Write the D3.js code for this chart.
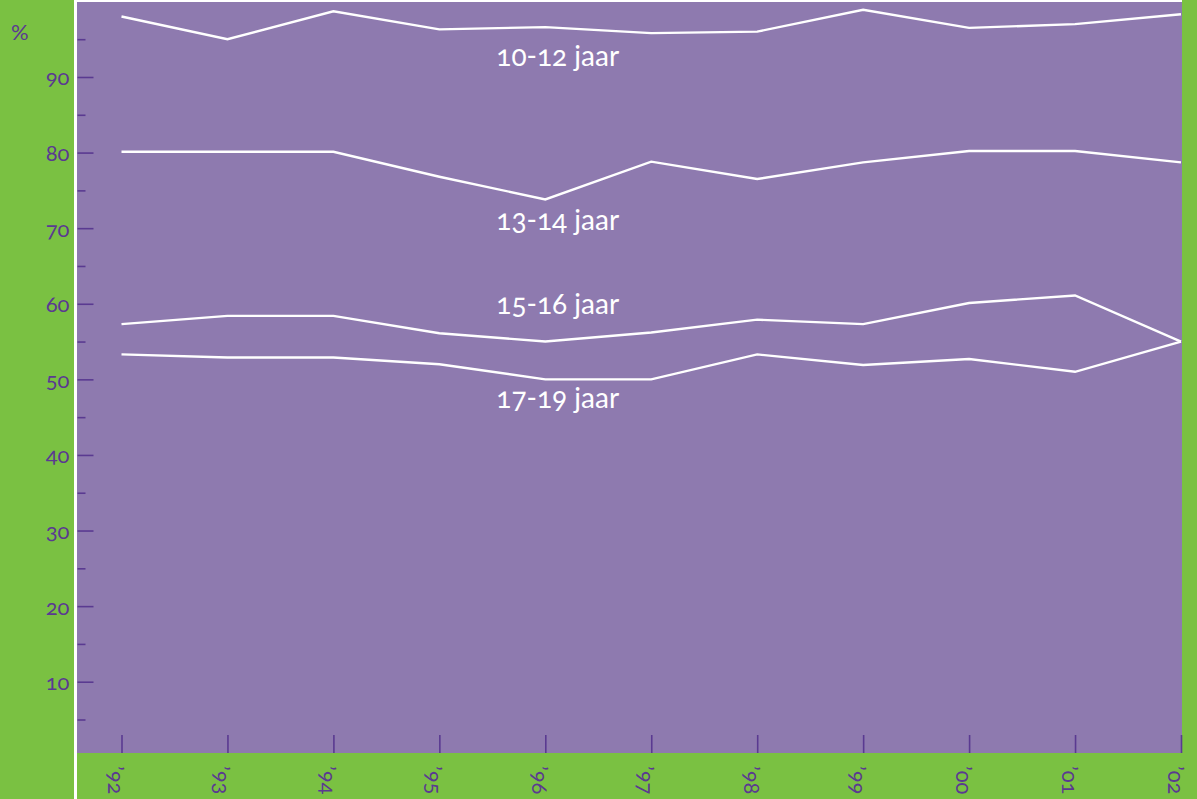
<!DOCTYPE html>
<html>
<head>
<meta charset="utf-8">
<script src="https://cdn.jsdelivr.net/npm/d3@7"></script>
<style>
  html, body { margin: 0; padding: 0; background: #7ac142; }
  svg { display: block; }
  text { font-family: Lato, "Open Sans", sans-serif; font-variant-numeric: oldstyle-nums; }
</style>
</head>
<body>
<svg id="chart" width="1197" height="799"></svg>
<script>
// ---- data ----
const years = [1992, 1993, 1994, 1995, 1996, 1997, 1998, 1999, 2000, 2001, 2002];
const yearLabels = ["’92", "’93", "’94", "’95", "’96", "’97", "’98", "’99", "’00", "’01", "’02"];
const seriesNames = ["10-12 jaar", "13-14 jaar", "15-16 jaar", "17-19 jaar"];
const age10_12 = [98.0, 95.0, 98.7, 96.3, 96.6, 95.8, 96.0, 98.9, 96.5, 97.0, 98.3];
const age13_14 = [80.1, 80.1, 80.1, 76.8, 73.8, 78.8, 76.5, 78.7, 80.2, 80.2, 78.7];
const age15_16 = [57.3, 58.4, 58.4, 56.1, 55.0, 56.2, 57.9, 57.3, 60.1, 61.1, 55.0];
const age17_19 = [53.3, 52.9, 52.9, 52.0, 50.0, 50.0, 53.3, 51.9, 52.7, 51.0, 55.0];
const yMajorTicks = [10, 20, 30, 40, 50, 60, 70, 80, 90];
const yMinorTicks = [5, 15, 25, 35, 45, 55, 65, 75, 85, 95];
const labelAnchors = [ // [year, value] where each series label's baseline sits
  [1996, 91.4], [1996, 69.8], [1996, 58.6], [1996, 46.2]
];
const seriesData = [age10_12, age13_14, age15_16, age17_19];

// ---- layout ----
const W = 1197, H = 799;
const plot = { left: 77, right: 1182, top: 2, bottom: 753 };
const green = "#7ac142", purple = "#8e7aaf", dark = "#5a3a91";

const svg = d3.select("#chart");

const x = d3.scaleLinear().domain([1992, 2002]).range([121.5, 1181]);
const y = d3.scaleLinear().domain([0, 100]).range([757.3, 1.4]);

// background pieces
svg.append("rect").attr("x", 0).attr("y", 0).attr("width", W).attr("height", H).attr("fill", green);
svg.append("rect").attr("x", 74).attr("y", 0).attr("width", 3).attr("height", H).attr("fill", "#ffffff");
svg.append("rect").attr("x", plot.left).attr("y", 0).attr("width", plot.right - plot.left).attr("height", 2).attr("fill", "#ffffff");
svg.append("rect").attr("x", plot.left).attr("y", plot.top)
  .attr("width", plot.right - plot.left).attr("height", plot.bottom - plot.top).attr("fill", purple);

// y axis (major ticks with labels)
const yAxis = d3.axisLeft(y).tickValues(yMajorTicks).tickSizeInner(-16).tickSizeOuter(0).tickPadding(8)
  .tickFormat(d3.format("d"));
const gy = svg.append("g").attr("transform", `translate(${plot.left + 0.5},0)`).call(yAxis);
gy.select(".domain").remove();
gy.selectAll(".tick line").attr("stroke", dark).attr("stroke-width", 1.6);
gy.selectAll(".tick text").attr("fill", dark).attr("font-size", 22).attr("x", -8).attr("dy", "0.36em");

// y minor ticks
const yMinor = d3.axisLeft(y).tickValues(yMinorTicks).tickSizeInner(-8).tickSizeOuter(0).tickFormat("");
const gym = svg.append("g").attr("transform", `translate(${plot.left + 0.5},0)`).call(yMinor);
gym.select(".domain").remove();
gym.selectAll(".tick line").attr("stroke", dark).attr("stroke-width", 1.6);

// % unit
svg.append("text").attr("x", 11).attr("y", 40).attr("fill", dark).attr("font-size", 22).text("%");

// x axis
const xAxis = d3.axisBottom(x).tickValues(years).tickSizeInner(-18).tickSizeOuter(0)
  .tickFormat((d, i) => yearLabels[i]);
const gx = svg.append("g").attr("transform", `translate(0,${plot.bottom})`).call(xAxis);
gx.select(".domain").remove();
gx.selectAll(".tick line").attr("stroke", dark).attr("stroke-width", 1.6);
gx.selectAll(".tick text")
  .attr("fill", dark).attr("font-size", 22)
  .attr("x", null).attr("y", null).attr("dy", null)
  .attr("text-anchor", "start")
  .attr("transform", "translate(-14,13) rotate(90)");

// lines
const line = d3.line().x((d, i) => x(years[i])).y(d => y(d));
svg.append("g").selectAll("path").data(seriesData).join("path")
  .attr("d", d => line(d))
  .attr("fill", "none").attr("stroke", "#ffffff").attr("stroke-width", 2.4)
  .attr("stroke-linejoin", "miter");

// series labels
svg.append("g").selectAll("text").data(seriesNames).join("text")
  .attr("x", (d, i) => x(labelAnchors[i][0]) - 49)
  .attr("y", (d, i) => y(labelAnchors[i][1]))
  .attr("fill", "#ffffff").attr("font-size", 28)
  .text(d => d);
</script>
</body>
</html>
